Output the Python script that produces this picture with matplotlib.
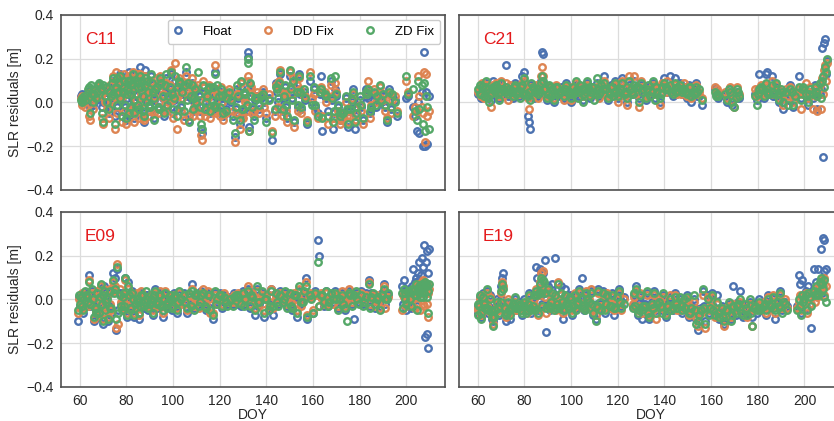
import matplotlib
matplotlib.use('Agg')
import matplotlib.pyplot as plt

# SLR residuals per satellite, same epochs for the three solutions
c11_doy = [60.5, 60.8, 61.2, 61.5, 63.5, 64.0, 64.3, 64.8, 65.3, 68.5, 69.0, 69.4, 69.8, 70.2, 72.5, 73.0, 73.5, 74.5, 75.0, 75.5,
           76.0, 77.0, 77.5, 78.0, 78.5, 79.2, 80.0, 80.5, 81.0, 81.5, 82.0, 83.0, 83.5, 84.0, 85.0, 85.5, 86.0, 86.5, 87.5, 88.0,
           88.5, 89.0, 90.0, 90.5, 91.5, 92.0, 93.0, 94.0, 95.0, 96.0, 97.0, 98.0, 99.0, 100.0, 101.0, 101.5, 102.0, 103.0, 104.5, 105.5,
           106.0, 107.0, 108.0, 109.0, 110.5, 111.5, 112.0, 112.5, 113.0, 114.0, 115.0, 116.0, 117.0, 118.0, 118.5, 119.0, 120.0, 121.0, 122.5, 124.0,
           125.5, 126.5, 127.5, 128.5, 129.0, 130.0, 131.0, 132.0, 132.3, 132.7, 133.5, 134.5, 136.0, 137.0, 138.5, 140.0, 141.0, 142.5, 144.0, 145.0,
           146.0, 147.0, 148.0, 149.0, 150.0, 151.0, 152.0, 153.0, 154.0, 155.0, 156.0, 157.5, 158.5, 159.5, 160.5, 162.0, 163.5, 164.0, 165.0, 166.5,
           167.5, 168.5, 169.5, 170.5, 171.5, 173.0, 174.0, 175.0, 176.0, 177.0, 178.0, 179.0, 180.0, 181.5, 182.5, 183.5, 184.5, 186.0, 187.0, 188.5,
           190.0, 191.5, 192.5, 193.5, 195.0, 196.0, 200.0, 200.5, 203.0, 203.5, 204.5, 205.0, 205.5, 206.5, 207.0, 207.5, 208.0, 208.5, 209.0, 209.5]
c11_float = [0.03, 0.00, 0.04, 0.01, 0.05, 0.02, -0.02, 0.06, 0.03, 0.08, 0.04, -0.02, 0.00, 0.06, -0.05, 0.06, 0.02, 0.10, -0.06, 0.05,
             -0.02, 0.08, 0.13, -0.04, 0.04, 0.11, -0.08, 0.02, 0.14, -0.03, 0.07, 0.12, -0.07, 0.03, 0.10, -0.05, 0.16, 0.05, -0.09, 0.15,
             0.01, 0.09, -0.04, 0.12, 0.04, -0.07, 0.08, -0.02, 0.06, -0.06, 0.11, 0.02, 0.13, -0.05, 0.10, -0.03, 0.05, 0.08, -0.06, 0.14,
             0.03, -0.08, 0.09, 0.00, 0.06, -0.04, -0.12, -0.14, 0.07, -0.02, 0.04, -0.05, 0.05, 0.14, -0.03, 0.06, -0.04, 0.02, -0.03, 0.04,
             -0.06, -0.16, 0.06, -0.10, 0.07, -0.05, 0.02, 0.23, 0.21, -0.11, 0.05, -0.06, 0.03, -0.03, 0.05, -0.07, 0.02, -0.17, 0.09, 0.00,
             0.13, -0.04, 0.07, -0.07, 0.12, 0.02, -0.09, 0.06, 0.13, -0.03, 0.05, -0.10, 0.10, 0.00, 0.06, -0.05, 0.12, -0.13, 0.03, -0.04,
             0.10, -0.12, 0.06, -0.02, -0.08, -0.06, 0.02, -0.11, -0.04, 0.06, -0.12, -0.03, 0.01, -0.08, 0.06, 0.02, -0.05, 0.04, -0.02, 0.05,
             0.03, -0.09, 0.06, -0.03, 0.01, -0.06, 0.02, 0.03, -0.02, -0.06, -0.13, 0.00, -0.14, 0.05, -0.20, 0.23, -0.20, 0.05, -0.19, 0.03]
c11_dd = [0.02, -0.01, 0.03, 0.00, 0.04, -0.06, -0.08, 0.05, 0.01, 0.07, 0.03, -0.07, -0.10, 0.05, -0.07, 0.08, 0.00, 0.12, -0.12, 0.14,
          -0.05, 0.06, 0.11, -0.09, 0.03, 0.13, -0.10, 0.06, 0.12, -0.05, 0.09, 0.14, -0.09, 0.01, 0.13, -0.07, 0.13, 0.04, -0.08, 0.12,
          0.03, 0.07, -0.06, 0.10, 0.06, -0.05, 0.11, 0.00, 0.08, -0.04, 0.09, 0.00, 0.15, -0.07, 0.18, -0.12, 0.03, 0.06, -0.08, 0.12,
          0.05, -0.06, 0.11, -0.02, 0.08, -0.06, -0.15, -0.17, 0.10, -0.04, 0.02, -0.07, 0.06, 0.17, -0.05, 0.04, -0.06, 0.00, -0.05, 0.06,
          -0.04, -0.18, 0.04, -0.12, 0.09, -0.07, 0.00, 0.12, 0.10, -0.13, 0.07, -0.04, 0.05, -0.05, 0.06, -0.05, 0.04, -0.13, 0.08, -0.02,
          0.15, -0.06, 0.05, -0.09, 0.14, 0.04, -0.11, 0.08, 0.11, -0.05, 0.03, -0.08, 0.14, 0.02, 0.04, -0.07, 0.07, -0.06, 0.05, -0.10,
          0.08, -0.07, 0.09, -0.04, -0.10, -0.08, 0.00, -0.09, -0.06, 0.04, -0.08, -0.05, -0.01, -0.10, 0.04, 0.10, -0.07, 0.06, 0.00, 0.07,
          0.01, -0.07, 0.04, -0.05, 0.03, -0.04, 0.10, 0.05, -0.06, -0.02, -0.04, 0.12, 0.03, -0.02, -0.05, 0.14, -0.18, 0.13, -0.06, -0.04]
c11_zd = [0.01, 0.00, 0.02, 0.02, 0.06, 0.07, -0.05, 0.08, 0.04, 0.09, 0.06, -0.05, -0.09, 0.08, -0.03, 0.05, 0.03, 0.11, -0.10, 0.07,
          -0.01, 0.09, 0.12, -0.06, 0.05, 0.10, -0.07, 0.04, 0.10, -0.02, 0.08, 0.13, -0.05, 0.04, 0.09, -0.03, 0.12, 0.07, -0.06, 0.11,
          0.00, 0.10, -0.02, 0.13, 0.05, -0.08, 0.07, -0.03, 0.09, -0.05, 0.13, 0.03, 0.14, -0.03, 0.12, -0.06, 0.07, 0.09, -0.04, 0.16,
          0.01, -0.09, 0.08, 0.02, 0.14, -0.02, -0.10, -0.12, 0.08, 0.00, 0.06, -0.04, 0.07, 0.13, -0.02, 0.08, -0.02, 0.03, -0.04, 0.05,
          -0.08, -0.14, 0.08, -0.08, 0.10, -0.03, 0.04, 0.20, 0.18, -0.13, 0.03, -0.08, 0.02, -0.01, 0.04, -0.09, 0.01, -0.14, 0.07, 0.02,
          0.14, -0.03, 0.08, -0.06, 0.15, 0.01, -0.08, 0.05, 0.12, -0.02, 0.06, -0.09, 0.12, -0.01, 0.07, -0.06, 0.06, -0.07, 0.04, -0.06,
          0.11, -0.09, 0.12, -0.01, -0.06, -0.05, 0.03, -0.10, -0.03, 0.05, -0.09, -0.02, 0.03, -0.07, 0.05, 0.06, -0.04, 0.05, -0.01, 0.08,
          0.04, -0.08, 0.05, -0.02, 0.00, -0.05, 0.12, 0.04, 0.06, -0.04, -0.08, 0.10, -0.03, 0.08, -0.10, 0.09, -0.13, 0.03, -0.02, -0.12]
# second batch of C11 normal points (band core)
c11_doy_b = [62.0, 62.5, 65.8, 66.3, 67.0, 67.6, 68.0, 70.8, 71.3, 71.8,
             73.8, 74.2, 75.8, 76.5, 77.2, 78.8, 79.6, 80.2, 80.8, 81.2,
             81.8, 82.5, 83.2, 84.5, 84.8, 85.2, 86.2, 87.0, 87.2, 88.2,
             89.5, 89.8, 91.0, 91.8, 92.5, 93.5, 94.5, 95.5, 96.5, 97.5,
             98.5, 99.5, 100.5, 102.5, 103.5, 104.0, 105.0, 106.5, 107.5, 108.5,
             109.5, 110.0, 111.0, 113.5, 114.5, 115.5, 116.5, 117.5, 119.5, 120.5,
             121.5, 123.0, 125.0, 127.0, 128.0, 129.5, 130.5, 131.5, 133.0, 134.0,
             135.0, 137.5, 139.0, 143.5, 144.5, 145.5, 147.5, 148.5, 150.5, 151.5,
             153.5, 154.5, 156.5, 161.0, 163.0, 165.5, 168.0, 169.0, 170.0, 172.0,
             174.5, 176.5, 178.5, 180.5, 183.0, 185.0, 187.5, 189.0, 191.0, 194.0]
c11_float_b = [0.02, 0.00, -0.01, 0.03, 0.01, 0.04, 0.06, 0.02, 0.05, -0.01,
               0.07, 0.03, 0.09, 0.04, 0.01, 0.06, -0.02, 0.05, 0.09, -0.06,
               0.03, 0.08, 0.00, 0.11, -0.02, 0.06, 0.09, 0.02, -0.05, 0.07,
               0.04, -0.02, 0.08, 0.01, 0.05, -0.03, 0.10, 0.02, 0.07, -0.02,
               0.06, 0.03, 0.01, 0.09, -0.02, 0.04, 0.07, 0.08, 0.02, -0.04,
               0.05, -0.01, 0.03, -0.04, 0.02, 0.06, 0.00, -0.02, 0.02, 0.05,
               -0.06, 0.01, 0.00, -0.03, 0.02, -0.04, 0.04, -0.02, 0.08, -0.03,
               0.01, 0.02, 0.00, -0.04, 0.05, 0.08, 0.02, -0.02, 0.05, 0.09,
               -0.02, 0.04, 0.01, -0.02, 0.04, 0.02, 0.01, -0.05, 0.03, -0.06,
               -0.04, 0.00, -0.06, -0.02, 0.03, -0.03, 0.02, 0.00, -0.02, 0.03]
c11_dd_b = [0.01, -0.02, -0.03, 0.02, 0.03, 0.03, 0.07, 0.00, 0.06, -0.03,
            0.08, 0.01, 0.10, 0.02, 0.03, 0.08, -0.04, 0.07, 0.11, -0.04,
            0.05, 0.10, -0.02, 0.09, -0.04, 0.08, 0.11, 0.00, -0.07, 0.09,
            0.06, -0.04, 0.06, 0.03, 0.07, -0.05, 0.12, 0.04, 0.09, -0.04,
            0.08, 0.01, 0.03, 0.11, -0.04, 0.02, 0.09, 0.06, 0.04, -0.06,
            0.07, -0.03, 0.01, -0.06, 0.04, 0.08, -0.02, -0.04, 0.04, 0.07,
            -0.08, 0.03, 0.02, -0.05, 0.04, -0.06, 0.02, -0.04, 0.06, -0.05,
            0.03, 0.04, -0.02, -0.06, 0.07, 0.10, 0.04, -0.04, 0.07, 0.11,
            -0.04, 0.06, 0.03, -0.04, 0.06, 0.00, 0.03, -0.07, 0.05, -0.08,
            -0.06, 0.02, -0.08, -0.04, 0.05, -0.01, 0.04, 0.02, -0.04, 0.01]
c11_zd_b = [0.03, 0.01, 0.00, 0.04, 0.02, 0.05, 0.08, 0.03, 0.07, 0.00,
            0.09, 0.04, 0.11, 0.05, 0.02, 0.07, -0.01, 0.06, 0.10, -0.05,
            0.04, 0.09, 0.01, 0.10, -0.01, 0.07, 0.10, 0.03, -0.04, 0.08,
            0.05, -0.01, 0.09, 0.02, 0.06, -0.02, 0.11, 0.03, 0.08, -0.01,
            0.07, 0.04, 0.02, 0.10, -0.01, 0.05, 0.08, 0.09, 0.03, -0.03,
            0.06, 0.00, 0.04, -0.03, 0.03, 0.07, 0.01, -0.01, 0.03, 0.06,
            -0.05, 0.02, 0.01, -0.02, 0.03, -0.03, 0.05, -0.01, 0.09, -0.02,
            0.02, 0.03, 0.01, -0.03, 0.06, 0.09, 0.03, -0.01, 0.06, 0.10,
            -0.01, 0.05, 0.02, -0.01, 0.05, 0.03, 0.02, -0.04, 0.04, -0.05,
            -0.03, 0.01, -0.05, -0.01, 0.04, -0.02, 0.03, 0.01, -0.01, 0.04]

c21_doy = [60.3, 60.8, 61.5, 62.0, 62.7, 63.5, 64.2, 65.0, 65.8, 66.5, 67.2, 68.0, 69.0, 70.0, 71.0, 72.3, 73.0, 74.0, 75.0, 76.0,
           77.0, 78.0, 79.0, 80.0, 80.8, 81.5, 82.0, 82.4, 83.0, 84.0, 85.0, 86.0, 87.0, 87.7, 88.0, 88.5, 89.5, 90.5, 91.5, 92.5,
           93.5, 94.5, 95.5, 97.0, 98.0, 99.0, 100.0, 101.0, 102.0, 103.0, 104.0, 105.0, 106.0, 107.0, 108.0, 109.0, 110.0, 111.0, 112.0, 113.0,
           114.0, 115.0, 116.0, 117.0, 118.0, 119.0, 120.0, 121.0, 122.0, 123.0, 124.0, 125.0, 126.0, 127.0, 128.0, 129.0, 130.0, 131.0, 132.0, 133.0,
           134.0, 135.0, 136.0, 137.0, 138.0, 139.0, 140.0, 141.0, 142.5, 143.5, 144.5, 145.5, 146.5, 147.5, 148.5, 149.5, 150.5, 151.5, 152.5, 153.5,
           155.0, 156.0, 161.5, 162.0, 163.0, 166.0, 167.0, 168.0, 169.0, 170.0, 171.0, 172.0, 179.0, 179.5, 180.5, 181.5, 182.5, 183.5, 184.0, 185.0,
           186.0, 187.0, 188.0, 189.0, 190.0, 191.0, 192.0, 193.0, 194.0, 195.0, 196.0, 197.5, 198.5, 199.5, 200.5, 201.5, 202.5, 203.5, 204.5, 205.5,
           206.5, 207.0, 207.5, 208.0, 208.3, 208.8, 209.2, 209.6]
c21_float = [0.04, 0.07, 0.02, 0.08, 0.05, 0.09, 0.03, 0.06, 0.01, 0.10, 0.04, 0.07, 0.02, 0.08, 0.05, 0.17, 0.03, 0.06, 0.02, 0.09,
             0.04, 0.07, 0.12, 0.14, 0.03, -0.06, -0.09, -0.12, 0.08, 0.02, 0.06, 0.03, 0.10, 0.23, 0.22, 0.05, 0.01, 0.07, 0.04, 0.00,
             0.06, 0.03, 0.07, 0.02, 0.09, 0.05, 0.00, 0.06, 0.08, 0.03, 0.07, 0.01, 0.05, 0.09, 0.02, 0.06, 0.04, 0.09, 0.03, 0.07,
             0.12, 0.05, 0.01, 0.08, 0.04, 0.10, 0.02, 0.07, 0.11, 0.05, 0.00, 0.08, 0.04, 0.10, 0.06, 0.02, 0.08, 0.05, 0.01, 0.07,
             0.04, 0.09, 0.02, 0.06, 0.00, 0.08, 0.11, 0.05, 0.12, 0.03, 0.11, 0.06, 0.09, 0.04, 0.07, 0.02, 0.08, 0.00, 0.05, 0.09,
             0.03, -0.01, 0.06, 0.04, 0.02, 0.03, 0.00, 0.06, -0.01, 0.04, 0.05, 0.02, 0.04, 0.01, 0.13, 0.06, 0.02, 0.13, 0.14, 0.05,
             0.12, 0.03, 0.07, 0.00, 0.05, -0.03, 0.04, 0.01, 0.08, -0.02, 0.05, 0.12, 0.02, 0.06, 0.03, -0.01, 0.05, 0.02, 0.08, -0.03,
             0.04, 0.06, 0.25, -0.25, 0.27, 0.29, 0.13, 0.19]
c21_dd = [0.05, 0.06, 0.03, 0.09, 0.02, 0.08, 0.05, 0.07, -0.02, 0.08, 0.06, 0.09, 0.03, 0.10, 0.03, 0.09, 0.01, 0.08, 0.04, 0.07,
          0.06, 0.05, 0.09, 0.10, 0.05, 0.02, -0.03, 0.06, 0.07, 0.04, 0.08, 0.02, 0.12, 0.16, 0.12, 0.07, 0.03, 0.05, 0.06, 0.02,
          0.08, 0.05, 0.06, 0.01, 0.07, 0.06, 0.01, 0.04, 0.09, 0.05, 0.06, 0.03, 0.07, 0.08, 0.04, 0.05, 0.06, 0.07, 0.02, 0.09,
          0.10, 0.04, 0.03, 0.06, 0.05, 0.08, 0.00, 0.09, 0.10, 0.03, -0.01, 0.12, 0.06, 0.12, 0.04, -0.02, 0.10, 0.07, 0.03, 0.05,
          0.06, 0.08, 0.04, 0.07, -0.01, 0.09, 0.08, 0.10, 0.07, 0.05, 0.08, 0.04, 0.07, 0.06, 0.09, 0.03, 0.06, 0.02, 0.07, 0.08,
          0.05, 0.02, 0.07, 0.05, 0.04, 0.05, 0.02, 0.07, 0.01, -0.02, 0.07, 0.04, 0.06, 0.03, 0.05, 0.08, 0.04, 0.08, 0.07, 0.06,
          0.10, 0.05, 0.08, 0.02, 0.04, -0.01, 0.06, 0.03, 0.07, 0.00, 0.04, 0.06, -0.03, 0.05, 0.09, 0.02, 0.07, -0.03, 0.06, -0.04,
          0.08, -0.03, 0.11, 0.04, 0.15, 0.17, 0.10, 0.18]
c21_zd = [0.06, 0.08, 0.04, 0.07, 0.03, 0.10, 0.02, 0.00, 0.04, 0.07, 0.05, 0.08, 0.01, 0.09, 0.06, 0.07, 0.04, 0.05, 0.03, 0.08,
          0.05, 0.02, 0.08, 0.11, 0.04, 0.03, 0.05, 0.01, 0.09, 0.06, 0.05, 0.04, 0.09, 0.12, 0.10, 0.06, 0.02, 0.08, 0.03, 0.01,
          0.07, 0.04, 0.05, 0.03, 0.08, 0.04, 0.02, 0.07, 0.10, 0.02, 0.08, 0.00, 0.06, 0.10, 0.03, 0.07, 0.01, 0.11, 0.04, 0.08,
          0.09, 0.06, 0.02, 0.07, 0.03, 0.09, 0.03, 0.06, 0.09, 0.04, 0.02, 0.10, 0.05, 0.08, 0.07, 0.00, 0.09, 0.06, 0.02, 0.08,
          0.03, 0.10, 0.01, 0.05, 0.02, 0.07, 0.09, 0.06, 0.08, 0.04, 0.09, 0.07, 0.08, 0.05, 0.06, 0.04, 0.07, 0.03, 0.04, 0.07,
          0.06, 0.01, 0.05, 0.03, 0.03, 0.04, 0.01, 0.05, 0.00, -0.02, 0.06, 0.03, 0.03, -0.01, 0.06, 0.07, 0.03, 0.09, 0.05, 0.04,
          0.08, 0.04, 0.09, 0.01, 0.06, 0.00, 0.05, -0.01, 0.06, -0.01, 0.03, 0.07, 0.01, 0.07, 0.04, 0.00, 0.06, 0.04, 0.07, 0.03,
          0.09, 0.02, 0.10, 0.12, 0.07, 0.16, 0.14, 0.20]
c21_doy_b = [61.0, 63.0, 64.6, 66.0, 67.6, 68.5, 69.5, 70.5, 71.5, 73.5,
             74.5, 75.5, 76.5, 77.5, 78.5, 79.5, 83.5, 84.5, 85.5, 86.5,
             89.0, 90.0, 91.0, 92.0, 93.0, 94.0, 95.0, 97.5, 98.5, 99.5,
             100.5, 101.5, 102.5, 103.5, 104.5, 105.5, 106.5, 107.5, 108.5, 109.5,
             110.5, 111.5, 112.5, 113.5, 116.5, 117.5, 118.5, 120.5, 121.5, 123.5,
             125.5, 126.5, 128.5, 130.5, 132.5, 134.5, 136.5, 138.5, 140.5, 143.0,
             145.0, 147.0, 149.0, 151.0, 153.0, 154.0, 162.5, 167.5, 170.5, 171.5,
             180.0, 182.0, 184.5, 186.5, 188.5, 190.5, 194.5, 199.0, 202.0, 205.0]
c21_float_b = [0.05, 0.06, 0.07, 0.04, 0.06, 0.05, 0.07, 0.04, 0.06, 0.05,
               0.04, 0.06, 0.05, 0.03, 0.06, 0.05, 0.05, 0.07, 0.04, 0.06,
               0.04, 0.05, 0.06, 0.04, 0.05, 0.06, 0.04, 0.05, 0.06, 0.03,
               0.05, 0.07, 0.04, 0.06, 0.05, 0.03, 0.06, 0.05, 0.07, 0.04,
               0.06, 0.05, 0.07, 0.04, 0.05, 0.06, 0.07, 0.04, 0.05, 0.07,
               0.05, 0.06, 0.04, 0.06, 0.05, 0.07, 0.04, 0.05, 0.06, 0.06,
               0.04, 0.05, 0.06, 0.04, 0.06, 0.03, 0.05, 0.04, 0.02, 0.03,
               0.05, 0.04, 0.06, 0.03, 0.05, 0.04, 0.03, 0.05, 0.03, 0.04]
c21_dd_b = [0.06, 0.05, 0.08, 0.05, 0.05, 0.07, 0.06, 0.05, 0.07, 0.04,
            0.06, 0.05, 0.07, 0.04, 0.05, 0.07, 0.06, 0.06, 0.05, 0.08,
            0.05, 0.07, 0.05, 0.05, 0.07, 0.05, 0.06, 0.04, 0.07, 0.04,
            0.07, 0.06, 0.05, 0.08, 0.04, 0.05, 0.07, 0.04, 0.06, 0.06,
            0.05, 0.07, 0.06, 0.05, 0.06, 0.04, 0.08, 0.06, 0.04, 0.06,
            0.07, 0.05, 0.06, 0.07, 0.04, 0.06, 0.06, 0.07, 0.05, 0.07,
            0.06, 0.04, 0.07, 0.06, 0.05, 0.04, 0.06, 0.05, 0.03, 0.04,
            0.06, 0.05, 0.05, 0.04, 0.06, 0.03, 0.04, 0.04, 0.05, 0.03]
c21_zd_b = [0.04, 0.07, 0.06, 0.06, 0.07, 0.04, 0.05, 0.06, 0.05, 0.06,
            0.05, 0.07, 0.04, 0.05, 0.07, 0.04, 0.07, 0.05, 0.06, 0.05,
            0.06, 0.04, 0.07, 0.06, 0.04, 0.07, 0.05, 0.06, 0.05, 0.05,
            0.04, 0.05, 0.06, 0.05, 0.06, 0.04, 0.05, 0.06, 0.05, 0.07,
            0.04, 0.06, 0.05, 0.06, 0.04, 0.07, 0.05, 0.05, 0.06, 0.05,
            0.06, 0.04, 0.07, 0.05, 0.06, 0.05, 0.07, 0.04, 0.07, 0.05,
            0.05, 0.06, 0.05, 0.07, 0.04, 0.05, 0.04, 0.06, 0.02, 0.05,
            0.04, 0.06, 0.04, 0.05, 0.04, 0.05, 0.05, 0.06, 0.04, 0.05]

e09_doy = [59.2, 59.6, 60.2, 60.8, 61.5, 62.2, 63.0, 64.0, 64.5, 65.2, 66.0, 66.8, 67.5, 68.2, 69.0, 69.8, 70.5, 71.2, 72.0, 72.8,
           73.5, 74.2, 75.0, 75.6, 76.2, 76.6, 77.2, 78.0, 78.8, 79.5, 80.2, 80.8, 81.5, 82.5, 83.5, 84.5, 85.5, 86.5, 87.5, 88.5,
           89.5, 90.5, 91.5, 92.5, 93.5, 94.5, 95.5, 96.5, 97.5, 98.5, 99.5, 100.5, 101.5, 102.5, 103.5, 104.5, 106.0, 107.0, 108.0, 109.0,
           110.0, 111.0, 112.0, 113.0, 114.0, 115.0, 116.0, 117.0, 118.0, 119.0, 120.0, 121.0, 122.0, 123.0, 124.5, 126.0, 127.0, 128.0, 129.0, 130.0,
           131.0, 132.0, 133.0, 134.0, 135.0, 136.0, 137.0, 138.0, 139.0, 140.0, 141.0, 142.0, 143.0, 144.0, 145.0, 146.0, 147.0, 148.0, 149.0, 150.0,
           151.0, 152.0, 153.0, 154.0, 155.0, 156.0, 157.0, 157.5, 158.5, 160.0, 161.0, 162.3, 162.5, 163.5, 164.5, 165.5, 166.5, 167.5, 168.5, 169.5,
           170.5, 171.5, 172.5, 173.5, 174.5, 175.5, 176.5, 177.5, 178.5, 179.5, 180.5, 181.5, 182.5, 183.8, 184.5, 185.5, 186.5, 187.5, 188.5, 189.5,
           190.2, 191.0, 192.0, 198.0, 198.5, 199.0, 199.5, 200.0, 201.0, 202.0, 203.0, 203.5, 204.0, 204.5, 205.0, 205.5, 206.0, 206.5, 207.0, 207.5,
           208.0, 208.3, 208.7, 209.0, 209.4, 209.7]
e09_float = [-0.10, 0.01, -0.03, 0.02, -0.06, 0.03, -0.01, 0.11, -0.03, 0.04, -0.10, -0.05, 0.02, -0.08, 0.05, -0.11, 0.06, -0.02, -0.10, 0.03,
             -0.06, 0.12, 0.10, -0.14, 0.14, -0.05, 0.03, -0.04, 0.02, 0.10, -0.08, 0.08, -0.03, 0.04, -0.08, 0.01, -0.09, 0.03, -0.04, 0.02,
             -0.05, 0.01, -0.07, 0.05, -0.02, 0.03, -0.08, 0.02, -0.03, 0.01, -0.05, 0.03, -0.06, 0.02, -0.01, 0.03, -0.06, 0.01, 0.07, -0.04,
             0.02, -0.02, 0.04, 0.01, -0.05, 0.03, -0.04, -0.09, 0.03, -0.01, 0.03, -0.04, 0.02, -0.02, 0.01, 0.03, -0.02, 0.02, -0.03, 0.04,
             -0.01, 0.05, -0.04, 0.02, -0.07, 0.05, -0.02, 0.03, -0.08, 0.01, -0.04, 0.05, -0.07, 0.02, -0.02, 0.04, 0.00, 0.03, -0.03, 0.02,
             -0.05, 0.01, -0.08, 0.04, -0.02, 0.03, 0.10, -0.09, 0.01, -0.06, 0.04, 0.27, 0.20, 0.01, -0.03, 0.04, -0.03, 0.02, -0.01, 0.04,
             -0.04, 0.01, 0.03, -0.05, 0.02, 0.04, -0.02, -0.09, 0.03, -0.01, 0.04, -0.02, 0.03, 0.09, -0.03, 0.02, -0.04, 0.01, -0.03, 0.03,
             0.07, -0.02, 0.02, 0.06, -0.02, 0.09, 0.04, -0.05, 0.05, -0.04, 0.14, 0.08, 0.10, -0.03, 0.12, 0.17, 0.06, 0.19, 0.15, 0.25,
             -0.17, 0.17, -0.16, 0.22, -0.22, 0.23]
e09_dd = [-0.06, 0.00, -0.04, 0.03, -0.04, 0.02, 0.00, 0.09, -0.01, 0.03, -0.09, -0.06, 0.04, -0.07, 0.06, -0.09, 0.05, -0.03, -0.08, 0.05,
          -0.05, 0.08, 0.06, -0.13, 0.16, -0.11, 0.05, -0.02, 0.01, 0.09, -0.06, 0.05, -0.05, 0.02, -0.06, 0.03, -0.07, 0.04, -0.02, 0.01,
          -0.03, 0.02, -0.05, 0.03, 0.00, 0.04, -0.06, 0.04, -0.02, 0.00, -0.03, 0.02, -0.04, 0.03, -0.02, 0.01, -0.05, 0.02, 0.05, -0.03,
          0.01, -0.04, 0.03, 0.05, -0.03, 0.04, -0.06, -0.06, 0.02, -0.02, 0.01, -0.02, 0.03, -0.01, -0.01, 0.02, -0.01, 0.03, -0.01, 0.02,
          0.01, 0.06, -0.02, 0.03, -0.04, 0.04, 0.00, 0.02, -0.05, 0.02, -0.03, 0.05, -0.04, 0.01, -0.01, 0.03, 0.01, 0.02, -0.02, 0.01,
          -0.03, 0.03, -0.05, 0.05, -0.03, 0.02, 0.08, -0.07, 0.03, -0.05, 0.02, 0.02, -0.03, 0.03, -0.02, 0.03, -0.02, 0.01, -0.02, 0.02,
          -0.03, 0.02, 0.04, -0.03, 0.01, 0.05, -0.01, 0.01, 0.02, 0.00, 0.03, -0.01, 0.02, 0.08, -0.02, 0.01, -0.03, 0.02, -0.04, 0.01,
          0.06, -0.04, 0.01, -0.05, 0.02, 0.01, 0.03, -0.03, 0.02, 0.01, 0.05, -0.04, 0.06, -0.02, 0.07, 0.03, -0.05, 0.08, 0.09, -0.03,
          0.06, 0.04, -0.02, 0.07, -0.08, 0.05]
e09_zd = [-0.05, 0.02, -0.02, 0.01, -0.05, 0.04, 0.01, 0.08, -0.02, 0.05, -0.08, -0.04, 0.03, -0.06, 0.07, -0.10, 0.04, -0.01, -0.09, 0.04,
          -0.04, 0.09, 0.05, -0.09, 0.15, -0.06, 0.02, -0.05, 0.03, 0.10, -0.07, 0.06, -0.04, 0.03, -0.07, 0.00, -0.06, 0.02, -0.03, 0.04,
          -0.04, 0.00, -0.06, 0.04, -0.01, 0.02, -0.05, 0.03, -0.04, 0.02, -0.04, 0.01, -0.05, 0.04, 0.00, 0.02, -0.04, 0.03, 0.04, -0.05,
          0.03, -0.03, 0.02, 0.03, -0.04, 0.02, -0.05, -0.07, 0.04, 0.00, 0.02, -0.03, 0.01, -0.03, 0.00, 0.01, 0.02, 0.01, -0.02, 0.03,
          0.00, 0.04, -0.03, 0.01, -0.05, 0.06, -0.01, 0.04, -0.06, 0.00, -0.05, 0.04, -0.03, 0.03, -0.03, 0.02, -0.01, 0.04, -0.04, 0.03,
          -0.04, 0.02, -0.06, 0.06, -0.01, 0.04, 0.06, -0.08, 0.02, -0.06, 0.03, 0.17, -0.03, 0.02, -0.01, 0.04, -0.03, 0.03, 0.00, 0.03,
          -0.05, 0.00, 0.02, -0.04, -0.10, 0.03, -0.03, 0.02, 0.04, -0.02, 0.02, -0.03, 0.01, 0.07, -0.04, 0.03, -0.02, 0.00, -0.05, 0.02,
          0.05, 0.00, 0.03, 0.03, -0.04, 0.05, 0.00, -0.02, 0.04, -0.03, 0.04, 0.02, 0.07, -0.05, 0.05, 0.06, 0.01, 0.07, 0.06, 0.03,
          0.08, 0.07, 0.01, 0.06, -0.06, 0.07]
e09_doy_b = [60.5, 61.0, 62.8, 63.5, 65.6, 66.4, 67.0, 68.6, 69.4, 70.0,
             70.8, 71.6, 73.0, 74.6, 77.6, 78.4, 79.0, 81.0, 82.0, 83.0,
             84.0, 85.0, 86.0, 87.0, 88.0, 89.0, 90.0, 91.0, 92.0, 93.0,
             94.0, 95.0, 96.0, 97.0, 98.0, 99.0, 100.0, 101.0, 102.0, 105.0,
             107.5, 109.5, 111.5, 113.5, 115.5, 118.5, 120.5, 122.5, 125.5, 127.5,
             130.5, 133.5, 136.5, 139.5, 141.5, 144.5, 147.5, 150.5, 152.5, 155.5,
             159.0, 164.0, 167.0, 170.0, 173.0, 176.0, 179.0, 182.0, 185.0, 188.0,
             191.5, 199.2, 200.5, 201.5, 202.5, 204.2, 205.2, 206.2, 207.2, 209.2]
e09_float_b = [0.00, -0.04, 0.02, -0.02, 0.01, -0.03, -0.07, 0.03, -0.04, 0.00,
               -0.06, 0.02, -0.03, 0.05, -0.02, 0.03, -0.05, 0.01, -0.03, 0.02,
               -0.04, 0.00, -0.02, 0.01, -0.03, 0.02, -0.01, -0.03, 0.01, -0.04,
               0.01, -0.02, 0.02, -0.01, -0.03, 0.02, -0.02, 0.01, -0.03, 0.00,
               -0.02, 0.01, 0.00, -0.02, 0.01, -0.01, 0.01, 0.00, -0.02, 0.01,
               -0.02, 0.01, -0.03, 0.02, -0.02, 0.00, 0.02, -0.02, 0.01, 0.00,
               0.02, 0.01, 0.00, 0.02, -0.01, 0.01, 0.02, 0.00, 0.03, 0.00,
               0.02, 0.05, 0.02, -0.01, 0.06, 0.04, 0.09, 0.11, 0.03, 0.12]
e09_dd_b = [-0.01, -0.02, 0.01, -0.03, 0.02, -0.02, -0.05, 0.02, -0.03, 0.01,
            -0.04, 0.01, -0.02, 0.04, -0.01, 0.02, -0.04, 0.00, -0.02, 0.01,
            -0.03, 0.01, -0.01, 0.00, -0.02, 0.01, 0.00, -0.02, 0.00, -0.03,
            0.00, -0.01, 0.01, 0.00, -0.02, 0.01, -0.01, 0.00, -0.02, 0.01,
            -0.01, 0.00, 0.01, -0.01, 0.00, 0.00, 0.00, 0.01, -0.01, 0.00,
            -0.01, 0.00, -0.02, 0.01, -0.01, 0.01, 0.01, -0.01, 0.00, 0.01,
            0.01, 0.00, 0.01, 0.01, 0.00, 0.00, 0.01, 0.01, 0.02, -0.01,
            0.01, 0.02, 0.00, -0.02, 0.03, 0.01, 0.04, 0.03, -0.02, 0.03]
e09_zd_b = [0.01, -0.03, 0.02, -0.01, 0.00, -0.04, -0.06, 0.01, -0.02, 0.02,
            -0.05, 0.00, -0.04, 0.03, -0.03, 0.01, -0.03, 0.02, -0.04, 0.00,
            -0.02, -0.01, -0.03, 0.02, -0.01, 0.00, -0.02, -0.01, 0.02, -0.02,
            0.02, -0.03, 0.00, -0.02, -0.01, 0.00, -0.03, 0.02, -0.01, -0.01,
            -0.03, 0.02, -0.01, -0.03, 0.02, -0.02, 0.02, -0.01, -0.03, 0.02,
            -0.03, 0.02, -0.01, 0.00, -0.03, -0.01, 0.00, -0.03, 0.02, -0.01,
            0.00, 0.02, -0.01, 0.00, -0.02, 0.02, 0.00, -0.01, 0.01, 0.01,
            0.00, 0.03, 0.04, 0.00, 0.05, 0.02, 0.03, 0.05, 0.01, 0.04]

e19_doy = [60.0, 60.5, 61.0, 61.6, 62.2, 63.0, 63.8, 64.5, 65.2, 66.0, 66.7, 67.5, 68.2, 69.0, 69.8, 70.5, 71.0, 71.5, 72.2, 73.0,
           74.0, 75.0, 76.0, 77.0, 78.0, 79.0, 80.0, 81.0, 82.0, 83.0, 84.0, 85.0, 85.5, 86.0, 86.5, 87.0, 87.5, 88.0, 88.5, 89.0,
           89.3, 90.0, 91.0, 92.0, 93.0, 93.5, 94.5, 95.5, 96.5, 97.5, 98.5, 99.5, 100.5, 101.5, 102.5, 103.5, 104.5, 105.5, 106.5, 107.5,
           108.5, 109.5, 110.5, 111.5, 112.5, 113.5, 114.5, 115.5, 116.5, 117.5, 118.5, 119.5, 120.5, 121.5, 122.5, 126.5, 127.0, 127.8, 128.5, 129.5,
           130.5, 131.5, 132.5, 133.5, 134.5, 135.5, 136.5, 137.5, 138.5, 139.5, 140.5, 141.5, 142.5, 143.5, 144.5, 145.5, 146.5, 147.5, 148.5, 149.5,
           150.5, 151.5, 152.5, 153.5, 154.5, 155.5, 156.5, 157.5, 158.5, 159.5, 160.5, 161.5, 162.5, 163.5, 164.5, 165.5, 166.5, 167.5, 168.5, 169.5,
           170.5, 171.5, 172.5, 173.5, 174.5, 175.5, 176.5, 177.5, 178.5, 179.5, 180.5, 181.5, 182.5, 183.5, 184.5, 185.5, 186.5, 187.5, 188.5, 189.5,
           190.5, 191.5, 192.5, 197.0, 197.5, 198.0, 198.5, 199.0, 199.5, 200.5, 201.0, 201.5, 202.5, 203.0, 204.0, 204.5, 205.0, 205.5, 206.0, 206.5,
           207.0, 207.5, 208.0, 208.2, 208.5, 209.0]
e19_float = [-0.06, -0.02, 0.01, -0.08, 0.03, -0.03, 0.04, -0.06, 0.02, -0.09, -0.10, -0.04, 0.00, -0.07, 0.06, 0.10, 0.12, -0.03, -0.10, -0.02,
             -0.09, -0.01, 0.00, -0.05, -0.03, -0.07, 0.00, -0.04, 0.03, -0.06, 0.01, 0.15, 0.10, -0.05, 0.14, 0.08, -0.02, 0.12, 0.03, 0.18,
             -0.15, 0.06, -0.05, 0.07, 0.19, -0.03, 0.05, 0.06, -0.09, 0.05, -0.04, 0.02, -0.07, 0.01, -0.03, 0.05, 0.10, -0.05, 0.02, -0.02,
             0.04, -0.07, -0.09, 0.05, -0.02, 0.04, -0.06, 0.01, -0.04, 0.03, -0.07, 0.02, 0.05, -0.03, 0.01, -0.03, 0.02, 0.06, -0.07, 0.01,
             -0.09, -0.02, 0.03, -0.09, -0.01, 0.04, -0.05, 0.01, -0.04, 0.02, -0.08, -0.02, 0.01, -0.05, 0.03, -0.03, 0.00, -0.06, -0.01, 0.02,
             -0.08, -0.03, 0.00, -0.09, -0.14, -0.04, 0.04, -0.10, 0.02, -0.05, 0.03, -0.06, 0.02, -0.09, -0.03, -0.11, -0.06, -0.02, -0.09, 0.06,
             -0.07, -0.01, 0.04, -0.08, -0.03, -0.06, -0.01, -0.08, -0.03, -0.06, 0.00, -0.05, -0.02, -0.07, 0.02, -0.04, 0.00, -0.09, -0.02, 0.04,
             -0.05, -0.01, -0.03, -0.03, 0.11, 0.07, -0.06, 0.09, 0.02, 0.04, -0.04, 0.06, 0.00, -0.13, 0.14, 0.03, 0.08, 0.02, 0.14, 0.06,
             0.23, 0.03, 0.28, 0.27, 0.13, 0.14]
e19_dd = [-0.05, -0.04, 0.00, -0.07, 0.02, -0.05, 0.03, -0.04, 0.01, -0.07, -0.11, -0.06, -0.02, -0.05, 0.03, 0.08, 0.06, -0.05, -0.08, 0.00,
          -0.06, -0.03, -0.01, -0.03, -0.04, -0.05, -0.02, -0.06, 0.01, -0.04, 0.00, 0.05, 0.03, -0.07, 0.08, 0.12, -0.04, 0.13, 0.05, 0.01,
          -0.06, 0.04, -0.03, 0.02, 0.01, -0.05, 0.08, 0.02, -0.06, 0.01, -0.02, 0.00, -0.05, 0.03, -0.01, 0.03, 0.01, -0.03, 0.04, 0.00,
          0.05, -0.05, -0.07, 0.03, -0.03, 0.02, -0.04, 0.03, -0.02, 0.01, -0.05, 0.00, 0.03, -0.05, 0.00, -0.02, 0.01, 0.04, -0.05, 0.03,
          -0.06, -0.04, 0.02, -0.07, -0.03, 0.02, -0.09, 0.00, -0.02, 0.01, -0.06, -0.04, 0.02, -0.03, 0.02, -0.05, -0.01, -0.04, -0.02, 0.00,
          -0.07, -0.05, -0.01, -0.08, -0.12, -0.06, 0.02, -0.13, 0.01, -0.03, 0.01, -0.08, -0.02, -0.07, -0.05, -0.12, -0.04, -0.03, -0.08, -0.02,
          -0.05, -0.03, -0.01, -0.06, -0.04, -0.08, -0.02, -0.12, -0.05, -0.04, -0.02, -0.03, -0.01, -0.06, 0.01, -0.02, 0.02, -0.06, -0.03, 0.02,
          -0.04, 0.00, -0.04, -0.04, -0.01, 0.02, -0.05, 0.01, -0.02, 0.03, -0.06, 0.01, -0.02, -0.02, 0.03, -0.01, 0.05, 0.01, 0.04, 0.07,
          0.09, 0.05, 0.06, 0.10, 0.02, 0.06]
e19_zd = [-0.07, -0.03, 0.02, -0.09, 0.01, -0.04, 0.05, -0.05, 0.00, -0.08, -0.12, -0.05, -0.01, -0.06, 0.04, 0.07, 0.05, -0.04, -0.07, -0.01,
          -0.07, -0.02, 0.01, -0.04, -0.02, -0.06, -0.01, -0.05, 0.02, -0.05, 0.02, 0.04, 0.02, -0.06, 0.07, 0.10, -0.03, 0.09, 0.08, 0.03,
          -0.04, 0.05, -0.04, 0.03, 0.02, -0.04, 0.07, 0.03, -0.05, 0.02, -0.03, 0.01, -0.06, 0.02, -0.02, 0.04, 0.00, -0.04, 0.03, -0.01,
          0.03, -0.06, -0.10, 0.04, -0.01, 0.03, -0.05, 0.02, -0.03, 0.02, -0.04, 0.01, 0.04, -0.04, -0.02, -0.04, 0.03, 0.05, -0.06, 0.02,
          -0.05, -0.03, 0.04, -0.08, -0.02, 0.03, -0.06, -0.01, -0.03, 0.03, -0.07, -0.03, 0.00, -0.04, 0.01, -0.04, 0.01, -0.05, 0.00, 0.01,
          -0.06, -0.04, 0.02, -0.11, -0.10, -0.05, 0.05, -0.11, 0.00, -0.04, 0.02, -0.07, -0.01, -0.08, -0.04, -0.10, -0.05, -0.01, -0.10, -0.03,
          -0.06, -0.02, 0.00, -0.07, -0.02, -0.07, 0.00, -0.12, -0.04, -0.05, -0.01, -0.04, -0.03, -0.05, 0.00, -0.03, 0.01, -0.05, -0.01, 0.03,
          -0.06, -0.02, -0.05, -0.05, 0.00, -0.03, -0.07, 0.02, -0.01, 0.02, -0.05, 0.03, 0.01, -0.03, 0.04, 0.02, 0.06, 0.03, 0.02, 0.08,
          0.10, 0.07, 0.05, 0.09, 0.01, -0.01]
e19_doy_b = [60.3, 61.3, 62.6, 64.0, 65.6, 67.0, 68.6, 70.0, 72.6, 73.5,
             74.5, 75.5, 76.5, 77.5, 78.5, 79.5, 80.5, 81.5, 82.5, 83.5,
             84.5, 86.2, 87.2, 90.5, 91.5, 92.5, 94.0, 95.0, 96.0, 97.0,
             98.0, 99.0, 100.0, 101.0, 102.0, 103.0, 105.0, 106.0, 107.0, 109.0,
             111.0, 113.0, 115.0, 117.0, 119.0, 121.0, 127.5, 129.0, 131.0, 133.0,
             135.0, 137.0, 139.0, 141.0, 143.0, 145.0, 147.0, 149.0, 151.0, 153.0,
             155.0, 157.0, 159.0, 161.0, 163.0, 165.0, 167.0, 169.0, 171.0, 173.0,
             175.0, 177.0, 179.0, 181.0, 183.0, 185.0, 187.0, 189.0, 191.0, 200.0]
e19_float_b = [-0.03, -0.05, -0.01, -0.02, -0.04, -0.07, -0.03, 0.00, -0.05, -0.04,
               -0.02, -0.05, -0.03, -0.01, -0.04, -0.02, -0.05, -0.01, -0.03, -0.02,
               -0.04, 0.04, 0.02, -0.02, 0.00, -0.04, -0.01, -0.03, 0.00, -0.04,
               -0.01, -0.03, 0.01, -0.02, -0.04, 0.00, -0.02, -0.04, 0.01, -0.03,
               -0.02, -0.04, -0.01, -0.02, -0.03, 0.00, -0.02, -0.04, -0.02, -0.05,
               -0.03, -0.01, -0.05, -0.02, -0.04, -0.01, -0.04, -0.03, -0.05, -0.04,
               -0.06, -0.03, -0.06, -0.03, -0.05, -0.07, -0.04, -0.06, -0.04, -0.05,
               -0.03, -0.05, -0.02, -0.04, -0.03, -0.01, -0.03, -0.02, -0.02, -0.02]
e19_dd_b = [-0.04, -0.04, -0.03, -0.03, -0.06, -0.06, -0.05, -0.02, -0.04, -0.06,
            -0.03, -0.04, -0.05, -0.02, -0.03, -0.04, -0.04, -0.03, -0.02, -0.04,
            -0.03, 0.02, 0.04, -0.04, -0.02, -0.03, -0.03, -0.02, -0.02, -0.03,
            -0.03, -0.02, -0.01, -0.04, -0.03, -0.02, -0.04, -0.03, -0.01, -0.04,
            -0.04, -0.03, -0.03, -0.04, -0.02, -0.02, -0.04, -0.03, -0.04, -0.04,
            -0.05, -0.03, -0.04, -0.04, -0.03, -0.03, -0.05, -0.02, -0.04, -0.06,
            -0.05, -0.05, -0.05, -0.04, -0.07, -0.06, -0.06, -0.05, -0.05, -0.04,
            -0.05, -0.04, -0.04, -0.03, -0.04, -0.03, -0.02, -0.04, -0.03, -0.01]
e19_zd_b = [-0.02, -0.06, -0.02, -0.04, -0.05, -0.08, -0.04, -0.01, -0.06, -0.05,
            -0.04, -0.03, -0.04, -0.03, -0.05, -0.03, -0.06, -0.02, -0.04, -0.03,
            -0.05, 0.03, 0.03, -0.03, -0.01, -0.05, -0.02, -0.04, -0.01, -0.05,
            -0.02, -0.04, 0.00, -0.03, -0.05, -0.01, -0.03, -0.05, 0.00, -0.02,
            -0.03, -0.05, -0.02, -0.03, -0.04, -0.01, -0.03, -0.05, -0.03, -0.06,
            -0.04, -0.02, -0.06, -0.03, -0.05, -0.02, -0.03, -0.04, -0.06, -0.05,
            -0.07, -0.04, -0.07, -0.05, -0.06, -0.08, -0.05, -0.07, -0.03, -0.06,
            -0.04, -0.06, -0.03, -0.05, -0.02, -0.02, -0.04, -0.03, -0.01, 0.00]

series_names = ['Float', 'DD Fix', 'ZD Fix']
series_colors = ['#4c72b0', '#dd8452', '#55a868']
panel_names = ['C11', 'C21', 'E09', 'E19']
panel_data = [
    (c11_doy + c11_doy_b, [c11_float + c11_float_b, c11_dd + c11_dd_b, c11_zd + c11_zd_b]),
    (c21_doy + c21_doy_b, [c21_float + c21_float_b, c21_dd + c21_dd_b, c21_zd + c21_zd_b]),
    (e09_doy + e09_doy_b, [e09_float + e09_float_b, e09_dd + e09_dd_b, e09_zd + e09_zd_b]),
    (e19_doy + e19_doy_b, [e19_float + e19_float_b, e19_dd + e19_dd_b, e19_zd + e19_zd_b]),
]

plt.rcParams['font.family'] = ['Liberation Sans', 'DejaVu Sans']

fig = plt.figure(figsize=(8.34, 4.21), dpi=100)
fig.set_facecolor('white')

# axes boxes in figure fraction; right column runs past the figure edge like the original crop
w, h = 0.4604, 0.4157
boxes = [(0.0731, 0.5487), (0.5504, 0.5487), (0.0731, 0.0808), (0.5504, 0.0808)]

for i, (name, (doy, vals)) in enumerate(zip(panel_names, panel_data)):
    ax = fig.add_axes([boxes[i][0], boxes[i][1], w, h])
    for label, y, c in zip(series_names, vals, series_colors):
        ax.plot(doy, y, ls='none', marker='o', ms=4.7, mfc='none', mec=c, mew=1.7, label=label)

    ax.set_xlim(52, 216.5)
    ax.set_ylim(-0.4, 0.4)
    ax.set_xticks(range(60, 201, 20))
    ax.set_yticks([-0.4, -0.2, 0.0, 0.2, 0.4])
    ax.grid(True, color='#dcdcdc', lw=0.9)
    ax.set_axisbelow(True)
    for s in ax.spines.values():
        s.set_color('#505050')
        s.set_linewidth(1.2)
    ax.tick_params(length=0, labelsize=10, colors='#262626', pad=5)

    if i < 2:
        ax.tick_params(labelbottom=False)
    else:
        ax.set_xlabel('DOY', fontsize=10, color='#262626', labelpad=0)
    if i % 2 == 1:
        ax.tick_params(labelleft=False)
    else:
        ax.set_ylabel('SLR residuals [m]', fontsize=10, color='#262626', labelpad=3)

    ax.text(0.062, 0.86, name, transform=ax.transAxes, color='#e41a1c',
            fontsize=12.5, va='center', ha='left')

    if i == 0:
        ax.legend(loc='upper right', ncol=3, fontsize=9.5, frameon=True,
                  handlelength=0.6, handletextpad=1.6, columnspacing=2.45,
                  borderpad=0.45, borderaxespad=0.35, edgecolor='#cccccc',
                  framealpha=1.0)

fig.savefig('out.png', dpi=100)
